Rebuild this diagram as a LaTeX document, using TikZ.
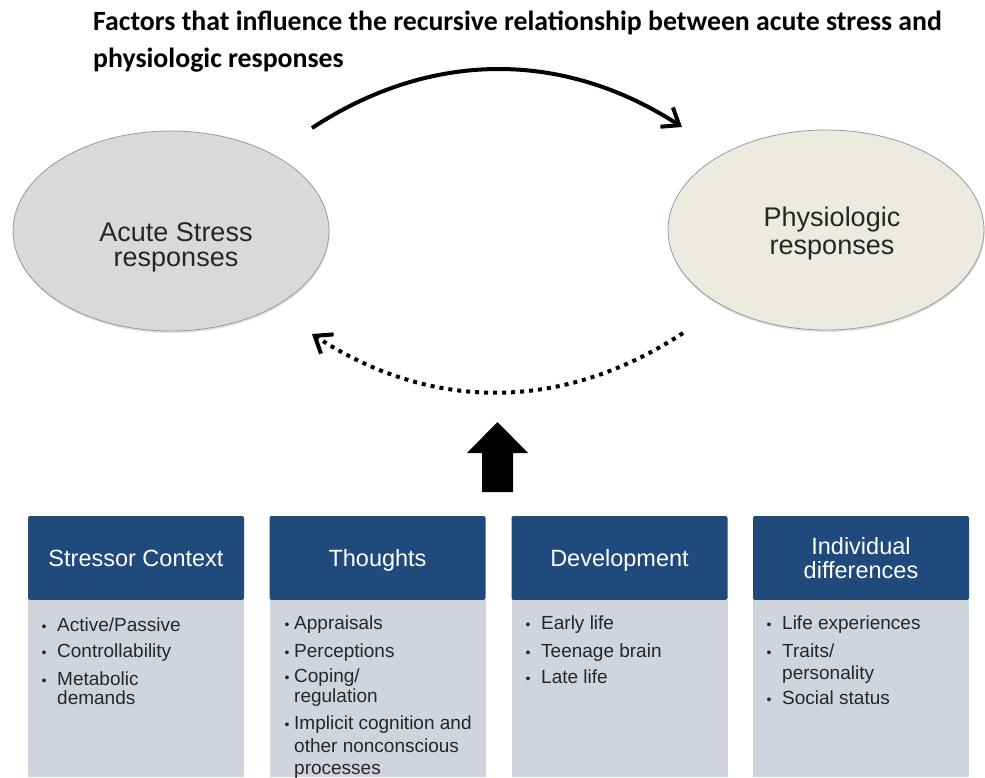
\documentclass[tikz,border=0pt]{standalone}
\usepackage{fontspec}
\setmainfont{Liberation Sans}
\newfontfamily\titlefont{Carlito}
\usetikzlibrary{arrows.meta,shapes.geometric,shadows}
\definecolor{hdr}{HTML}{214A7C}
\definecolor{bodyc}{HTML}{D0D4DC}
\definecolor{ellL}{HTML}{D9D9D9}
\definecolor{ellR}{HTML}{EDEBE0}
\definecolor{ellB}{HTML}{9A9A9A}
\begin{document}
\begin{tikzpicture}[x=1pt,y=-1pt,
  ttl/.style={anchor=base west, inner sep=0pt, font=\titlefont\bfseries\fontsize{27.8}{30}\selectfont},
  ell/.style={ellipse, draw=ellB, line width=0.8pt, minimum width=316pt, minimum height=200pt, inner sep=0pt,
     drop shadow={opacity=0.25, shadow xshift=0.5pt, shadow yshift=-2pt}},
  elltxt/.style={anchor=center, inner sep=0pt, align=center, text=black!85},
  hdrbox/.style={fill=hdr, text=white, minimum width=216pt, minimum height=84pt, inner sep=0pt,
     rounded corners=2pt, font=\fontsize{23.5}{24}\selectfont, align=center},
  bodybox/.style={fill=bodyc, minimum width=216pt, minimum height=177pt, inner sep=0pt, anchor=north},
  itm/.style={anchor=base west, inner sep=0pt, font=\fontsize{19}{19}\selectfont, text=black!85},
  bul/.style={anchor=base, inner sep=0pt, font=\fontsize{14}{14}\selectfont, text=black!85},
  arr/.style={line width=4pt, -{Straight Barb[length=15pt,width=23pt]}}
]
\useasboundingbox (0,0) rectangle (985,777);
\fill[white] (0,0) rectangle (985,777);

% title
\node[ttl] (title1) at (93,30) {Factors that influence the recursive relationship between acute stress and};
\node[ttl] (title2) at (93,67) {physiologic responses};

% ellipses
\node[ell, fill=ellL] (acute) at (171,231) {};
\node[elltxt, font=\fontsize{27}{25}\selectfont] (acuteT) at (176,247.5) {Acute Stress\\responses};
\node[ell, fill=ellR] (phys) at (826,230) {};
\node[elltxt, font=\fontsize{27}{28}\selectfont] (physT) at (832,234) {Physiologic\\responses};

% arcs
\coordinate (t1) at (312,128);
\coordinate (t2) at (682,127);
\draw[arr] (t1) .. controls (431,50) and (563,50) .. (t2);
\coordinate (d1) at (683,333);
\coordinate (d2) at (312,334);
\draw[arr, dash pattern=on 4pt off 5pt] (d1) .. controls (563,412) and (431,412) .. (d2);

% block arrow
\fill[black] (482,492) -- (482,453) -- (467,453) -- (497.5,422) -- (528,453) -- (513,453) -- (513,492) -- cycle;

% boxes
\node[hdrbox, text height=17pt, text depth=0pt] (h1) at (136,558) {Stressor Context};
\node[hdrbox, text height=17pt, text depth=0pt] (h2) at (377.5,558) {Thoughts};
\node[hdrbox, text height=17pt, text depth=0pt] (h3) at (619.5,558) {Development};
\node[hdrbox] (h4) at (861,558) {Individual\\differences};
\node[bodybox] (b1) at (h1.south) {};
\node[bodybox] (b2) at (h2.south) {};
\node[bodybox] (b3) at (h3.south) {};
\node[bodybox] (b4) at (h4.south) {};

% box 1 items
\node[bul] (p11) at (44,631) {\textbullet};
\node[itm] (i11) at (57,631) {Active/Passive};
\node[bul] (p12) at (44,657) {\textbullet};
\node[itm] (i12) at (57,657) {Controllability};
\node[bul] (p13) at (44,685) {\textbullet};
\node[itm] (i13) at (57,685) {Metabolic};
\node[itm] (i13b) at (57,704) {demands};

% box 2 items
\node[bul] (p21) at (287,629) {\textbullet};
\node[itm] (i21) at (294,629) {Appraisals};
\node[bul] (p22) at (287,657) {\textbullet};
\node[itm] (i22) at (294,657) {Perceptions};
\node[bul] (p23) at (287,682) {\textbullet};
\node[itm] (i23) at (294,682) {Coping/};
\node[itm] (i23b) at (294,702) {regulation};
\node[bul] (p24) at (287,729) {\textbullet};
\node[itm] (i24) at (294,729) {Implicit cognition and};
\node[itm] (i24b) at (294,752) {other nonconscious};
\node[itm] (i24c) at (294,774) {processes};

% box 3 items
\node[bul] (p31) at (528,629) {\textbullet};
\node[itm] (i31) at (541,629) {Early life};
\node[bul] (p32) at (528,657) {\textbullet};
\node[itm] (i32) at (541,657) {Teenage brain};
\node[bul] (p33) at (528,683) {\textbullet};
\node[itm] (i33) at (541,683) {Late life};

% box 4 items
\node[bul] (p41) at (769,629) {\textbullet};
\node[itm] (i41) at (782,629) {Life experiences};
\node[bul] (p42) at (769,657) {\textbullet};
\node[itm] (i42) at (782,657) {Traits/};
\node[itm] (i42b) at (782,679) {personality};
\node[bul] (p43) at (769,704) {\textbullet};
\node[itm] (i43) at (782,704) {Social status};
\end{tikzpicture}
\end{document}
